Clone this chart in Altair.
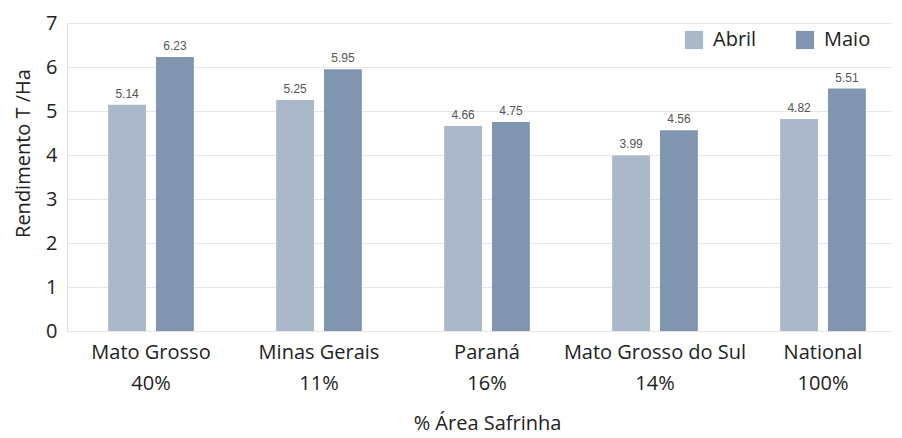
import altair as alt
import pandas as pd

categories = ["Mato Grosso", "Minas Gerais", "Paraná", "Mato Grosso do Sul", "National"]
area_pct = ["40%", "11%", "16%", "14%", "100%"]
abril = [5.14, 5.25, 4.66, 3.99, 4.82]
maio = [6.23, 5.95, 4.75, 4.56, 5.51]
series = ["Abril", "Maio"]
colors = ["#abb8ca", "#8195b0"]
y_ticks = [0, 1, 2, 3, 4, 5, 6, 7]

rows = []
for c, p, a, m in zip(categories, area_pct, abril, maio):
    key = c + "|" + p
    rows.append({"cat": key, "serie": "Abril", "val": a})
    rows.append({"cat": key, "serie": "Maio", "val": m})
df = pd.DataFrame(rows)
order = [c + "|" + p for c, p in zip(categories, area_pct)]

FONT = "Open Sans"

x = alt.X("cat:N", sort=order,
          scale=alt.Scale(paddingInner=0.49, paddingOuter=0.245),
          axis=alt.Axis(title="% Área Safrinha", labelExpr="split(datum.label, '|')",
                        labelAngle=0, labelFontSize=20, labelColor="#222", labelFont=FONT,
                        labelLineHeight=31, labelPadding=11, labelLimit=0,
                        ticks=False, domain=False,
                        titleFontSize=20, titleFont=FONT, titleFontWeight="normal",
                        titleColor="#222", titlePadding=20))
xo = alt.XOffset("serie:N", sort=series, scale=alt.Scale(paddingInner=0.21, paddingOuter=0))
y = alt.Y("val:Q", scale=alt.Scale(domain=[0, 7], nice=False),
          axis=alt.Axis(title="Rendimento T /Ha", values=y_ticks, labelOverlap=False,
                        labelFontSize=20, labelColor="#222", labelFont=FONT, labelPadding=10,
                        ticks=False, domain=False, gridColor="#e6e6e6", gridWidth=1,
                        titleFontSize=20, titleFont=FONT, titleFontWeight="normal",
                        titleColor="#222", titlePadding=12, titleY=130))

bars = alt.Chart(df).mark_bar().encode(
    x=x, xOffset=xo, y=y,
    color=alt.Color("serie:N", sort=series,
                    scale=alt.Scale(domain=series, range=colors),
                    legend=alt.Legend(title=None, orient="none", legendX=617, legendY=7,
                                      direction="horizontal", symbolType="square",
                                      symbolSize=330, symbolStrokeWidth=0,
                                      labelFontSize=20, labelFont=FONT, labelColor="#222",
                                      labelOffset=9, columnPadding=38, padding=0,
                                      fillColor="white")),
)

labels = alt.Chart(df).mark_text(dy=-11, fontSize=12, font="Liberation Sans", color="#555").encode(
    x=x, xOffset=xo, y=y, text=alt.Text("val:Q", format=".2f")
)

chart = (bars + labels).properties(
    width=840, height=308,
    padding={"left": 5, "top": 5, "right": -16, "bottom": 6},
).configure_view(stroke=None).configure(background="white")

chart.save("out.html", embed_options={"renderer": "svg", "actions": False})
